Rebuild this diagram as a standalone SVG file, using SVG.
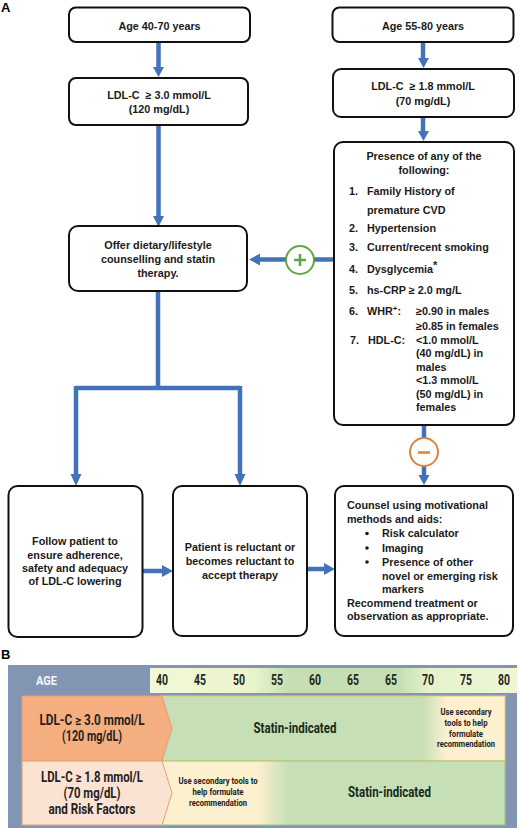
<svg xmlns="http://www.w3.org/2000/svg" width="520" height="829" viewBox="0 0 520 829">
<style>
text{font-family:"Liberation Sans",Arial,sans-serif;font-weight:700;font-size:10.8px;fill:#1a1a1a}
.c{text-anchor:middle}
.box{fill:#fff;stroke:#111;stroke-width:2}
.ln{fill:none;stroke:#4472b8;stroke-width:4.500}
.hd{fill:#4472b8}
.pl{font-size:13px;fill:#000}
.b{font-family:Roboto,"Liberation Sans",sans-serif;font-weight:700}
.age{font-size:14px;fill:#1c2a1c;text-anchor:middle}
.r{font-size:14px;fill:#222;text-anchor:middle}
.s{font-size:8.500px;fill:#222;text-anchor:middle}
.si{font-size:14.500px;fill:#1a2a1a;text-anchor:middle}
</style>
<defs>
<linearGradient id="ag" x1="150" x2="517" y1="0" y2="0" gradientUnits="userSpaceOnUse">
<stop offset="0" stop-color="#f2f8d8"/><stop offset=".28" stop-color="#eaf4cc"/><stop offset=".38" stop-color="#c5deb4"/><stop offset=".68" stop-color="#c5deb4"/><stop offset=".76" stop-color="#e6f2cc"/><stop offset="1" stop-color="#eef6d6"/>
</linearGradient>
<linearGradient id="r1" x1="162" x2="505" y1="0" y2="0" gradientUnits="userSpaceOnUse">
<stop offset="0" stop-color="#c6dfb6"/><stop offset=".76" stop-color="#c6dfb6"/><stop offset=".83" stop-color="#fdf0cf"/><stop offset="1" stop-color="#fdf0cf"/>
</linearGradient>
<linearGradient id="r2" x1="162" x2="505" y1="0" y2="0" gradientUnits="userSpaceOnUse">
<stop offset="0" stop-color="#fdf0cf"/><stop offset=".28" stop-color="#fdf0cf"/><stop offset=".37" stop-color="#c6dfb6"/><stop offset="1" stop-color="#c6dfb6"/>
</linearGradient>
</defs>
<text class="pl" x="1" y="12">A</text>
<text class="pl" x="1" y="659">B</text>
<g id="connectors">
<path class="ln" d="M158.500 42V70"/><path class="hd" d="M153 67H164L158.500 77Z"/>
<path class="ln" d="M158.500 125V219"/><path class="hd" d="M153 216H164L158.500 227Z"/>
<path class="ln" d="M423 42V60"/><path class="hd" d="M418 58H429L423.500 68Z"/>
<path class="ln" d="M423 117V133"/><path class="hd" d="M418 131H429L423.500 141Z"/>
<path class="ln" d="M334 259.500H258"/><path class="hd" d="M260 253.500V265.500L249 259.500Z"/>
<path class="ln" d="M158 290V388M76 388H240M76 386V477M240 386V477"/>
<path class="hd" d="M70.500 474H81.500L76 486Z"/><path class="hd" d="M234.500 474H245.500L240 486Z"/>
<path class="ln" d="M424 425V478"/><path class="hd" d="M418.500 475H429.500L424 485Z"/>
<path class="ln" d="M143 571H164"/><path class="hd" d="M162 565V577L173 571Z"/>
<path class="ln" d="M308 569H326"/><path class="hd" d="M324 563V575L335 569Z"/>
</g>
<g id="plus"><circle cx="300" cy="260" r="14" fill="#fff" stroke="#62a546" stroke-width="2"/><path d="M294 260H306M300 254V266" stroke="#62a546" stroke-width="2.500"/></g>
<g id="minus"><circle cx="424" cy="452" r="14" fill="#fff" stroke="#d9843f" stroke-width="2"/><path d="M418 452.500H430" stroke="#d9843f" stroke-width="2.500"/></g>
<g id="n1"><rect class="box" x="69" y="7.500" width="181" height="34.500" rx="7"/><text class="c" x="159.500" y="30">Age 40-70 years</text></g>
<g id="n2"><rect class="box" x="69" y="78" width="179" height="47" rx="7"/><text class="c" x="159" y="98.500" xml:space="preserve">LDL-C  ≥ 3.0 mmol/L</text><text class="c" x="159" y="112.500">(120 mg/dL)</text></g>
<g id="n3"><rect class="box" x="332.500" y="7.500" width="181" height="34.500" rx="7"/><text class="c" x="423" y="30">Age 55-80 years</text></g>
<g id="n4"><rect class="box" x="333" y="69" width="181" height="48" rx="8"/><text class="c" x="423" y="90" xml:space="preserve">LDL-C  ≥ 1.8 mmol/L</text><text class="c" x="423" y="104.500">(70 mg/dL)</text></g>
<g id="n5"><rect class="box" x="334" y="142" width="180" height="283" rx="9"/>
<text class="c" x="424" y="160">Presence of any of the</text><text class="c" x="424" y="174">following:</text>
<text x="349" y="195">1.</text><text x="367" y="195">Family History of</text><text x="367" y="214">premature CVD</text>
<text x="349" y="232">2.</text><text x="367" y="232">Hypertension</text>
<text x="349" y="251">3.</text><text x="367" y="251">Current/recent smoking</text>
<text x="349" y="273">4.</text><text x="367" y="273">Dysglycemia<tspan dy="-4" font-size="11">*</tspan></text>
<text x="349" y="294">5.</text><text x="367" y="294">hs-CRP ≥ 2.0 mg/L</text>
<text x="349" y="315">6.</text><text x="367" y="315">WHR<tspan dy="-4" font-size="8">+</tspan><tspan dy="4">:</tspan></text><text x="416" y="315">≥0.90 in males</text>
<text x="416" y="330">≥0.85 in females</text>
<text x="350" y="344">7.</text><text x="368" y="344">HDL-C:</text><text x="416" y="344">&lt;1.0 mmol/L</text>
<text x="416" y="357">(40 mg/dL) in</text><text x="416" y="371">males</text><text x="416" y="384">&lt;1.3 mmol/L</text><text x="416" y="398">(50 mg/dL) in</text><text x="416" y="411">females</text></g>
<g id="n6"><rect class="box" x="69" y="226" width="178" height="65" rx="9"/><text class="c" x="158" y="249">Offer dietary/lifestyle</text><text class="c" x="158" y="263">counselling and statin</text><text class="c" x="158" y="277">therapy.</text></g>
<g id="n7"><rect class="box" x="8.500" y="486" width="134" height="151" rx="9"/><text class="c" x="75" y="545">Follow patient to</text><text class="c" x="75" y="558.500">ensure adherence,</text><text class="c" x="75" y="572">safety and adequacy</text><text class="c" x="75" y="585">of LDL-C lowering</text></g>
<g id="n8"><rect class="box" x="173" y="486" width="134" height="150" rx="9"/><text class="c" x="240" y="551">Patient is reluctant or</text><text class="c" x="240" y="565">becomes reluctant to</text><text class="c" x="240" y="578.500">accept therapy</text></g>
<g id="n9"><rect class="box" x="335" y="486" width="178" height="150" rx="9"/>
<text x="347" y="509">Counsel using motivational</text><text x="347" y="523">methods and aids:</text>
<circle cx="367" cy="533.500" r="1.800" fill="#1a1a1a"/><text x="382" y="537">Risk calculator</text>
<circle cx="367" cy="548" r="1.800" fill="#1a1a1a"/><text x="382" y="552">Imaging</text>
<circle cx="367" cy="562" r="1.800" fill="#1a1a1a"/><text x="382" y="566">Presence of other</text><text x="382" y="580">novel or emerging risk</text><text x="382" y="593">markers</text>
<text x="347" y="607">Recommend treatment or</text><text x="347" y="620">observation as appropriate.</text></g>
<g id="panelB">
<rect x="8" y="665" width="509" height="163" fill="#8296b4"/>
<rect x="150" y="668" width="367" height="25" fill="url(#ag)"/>
<text class="b" x="36" y="685" font-size="13" style="font-size:13px;fill:#f4f6fa" textLength="21" lengthAdjust="spacingAndGlyphs">AGE</text>
<g><text class="b age" x="162" y="685" textLength="12" lengthAdjust="spacingAndGlyphs">40</text><text class="b age" x="200" y="685" textLength="12" lengthAdjust="spacingAndGlyphs">45</text><text class="b age" x="239" y="685" textLength="12" lengthAdjust="spacingAndGlyphs">50</text><text class="b age" x="277" y="685" textLength="12" lengthAdjust="spacingAndGlyphs">55</text><text class="b age" x="315" y="685" textLength="12" lengthAdjust="spacingAndGlyphs">60</text><text class="b age" x="353" y="685" textLength="12" lengthAdjust="spacingAndGlyphs">65</text><text class="b age" x="391" y="685" textLength="12" lengthAdjust="spacingAndGlyphs">65</text><text class="b age" x="428" y="685" textLength="12" lengthAdjust="spacingAndGlyphs">70</text><text class="b age" x="466" y="685" textLength="12" lengthAdjust="spacingAndGlyphs">75</text><text class="b age" x="504" y="685" textLength="12" lengthAdjust="spacingAndGlyphs">80</text></g>
<rect x="162" y="696" width="343" height="65" fill="url(#r1)" stroke="#e8c878" stroke-width="1"/>
<rect x="162" y="761" width="343" height="64" fill="url(#r2)" stroke="#a9c07a" stroke-width="1"/>
<path d="M22 696H162L172 728.500L162 761H22Z" fill="#f4ae80" stroke="#e8a070"/>
<path d="M22 761H162L172 793L162 825H22Z" fill="#fbe3d4" stroke="#e8a070"/>
<text class="b r" x="92" y="725" textLength="105" lengthAdjust="spacingAndGlyphs">LDL-C ≥ 3.0 mmol/L</text><text class="b r" x="92" y="741" textLength="60" lengthAdjust="spacingAndGlyphs">(120 mg/dL)</text>
<text class="b r" x="92" y="782" textLength="102" lengthAdjust="spacingAndGlyphs">LDL-C ≥ 1.8 mmol/L</text><text class="b r" x="92" y="798" textLength="57" lengthAdjust="spacingAndGlyphs">(70 mg/dL)</text><text class="b r" x="92" y="814" textLength="87" lengthAdjust="spacingAndGlyphs">and Risk Factors</text>
<text class="b si" x="295" y="733" textLength="83" lengthAdjust="spacingAndGlyphs">Statin-indicated</text><text class="b si" x="389.500" y="797" textLength="83" lengthAdjust="spacingAndGlyphs">Statin-indicated</text>
<text class="b s" x="466" y="715" textLength="51" lengthAdjust="spacingAndGlyphs">Use secondary</text><text class="b s" x="466" y="726" textLength="43" lengthAdjust="spacingAndGlyphs">tools to help</text><text class="b s" x="466" y="737" textLength="34" lengthAdjust="spacingAndGlyphs">formulate</text><text class="b s" x="466" y="747" textLength="58" lengthAdjust="spacingAndGlyphs">recommendation</text>
<text class="b s" x="218" y="784" textLength="79" lengthAdjust="spacingAndGlyphs">Use secondary tools to</text><text class="b s" x="218" y="795" textLength="51" lengthAdjust="spacingAndGlyphs">help formulate</text><text class="b s" x="218" y="806" textLength="58" lengthAdjust="spacingAndGlyphs">recommendation</text>
</g>
</svg>
